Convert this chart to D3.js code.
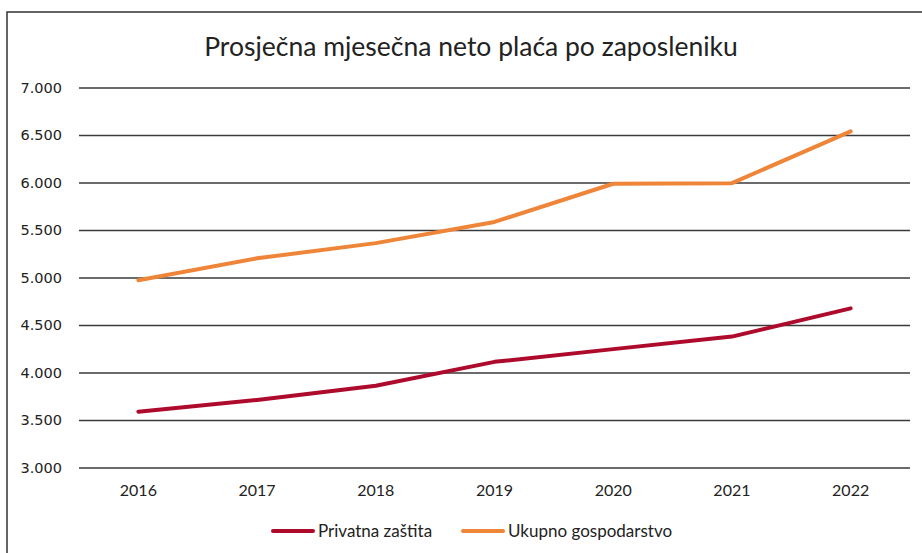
<!DOCTYPE html>
<html>
<head>
<meta charset="utf-8">
<script src="https://cdn.jsdelivr.net/npm/d3@7"></script>
<style>
  body { margin: 0; background: #fff; }
  svg { display: block; }
</style>
</head>
<body>
<div id="graph-container"></div>
<script>
// Data
var years = ["2016", "2017", "2018", "2019", "2020", "2021", "2022"];
var privatnaZastita = [3588, 3711, 3861, 4112, 4246, 4378, 4675];
var ukupnoGospodarstvo = [4972, 5202, 5362, 5585, 5987, 5993, 6538];
var yTicks = [3000, 3500, 4000, 4500, 5000, 5500, 6000, 6500, 7000];

var seriesNames = ["Privatna zaštita", "Ukupno gospodarstvo"];
var seriesColors = ["#AD0A2C", "#EE8539"];

var svgWidth = 922;
var svgHeight = 553;

var svg = d3.select("#graph-container")
  .append("svg")
  .attr("width", svgWidth)
  .attr("height", svgHeight);

// Outer frame (runs off the right and bottom edge)
svg.append("rect")
  .attr("x", 7)
  .attr("y", 12)
  .attr("width", 1000)
  .attr("height", 600)
  .attr("fill", "#fff")
  .attr("stroke", "#333")
  .attr("stroke-width", 1.5);

// Title
svg.append("text")
  .attr("x", 471)
  .attr("y", 56)
  .attr("text-anchor", "middle")
  .style("font-family", "Lato, 'Open Sans', sans-serif")
  .style("font-size", "26.5px")
  .style("fill", "#222")
  .text("Prosječna mjesečna neto plaća po zaposleniku");

var margin = { top: 87.5, left: 79, right: 12, bottom: 85.5 };
var chartWidth = svgWidth - margin.left - margin.right;
var chartHeight = svgHeight - margin.top - margin.bottom;

var chart = svg.append("g")
  .attr("transform", "translate(" + margin.left + "," + margin.top + ")");

var xScale = d3.scaleBand()
  .domain(years)
  .range([0, chartWidth]);

var yScale = d3.scaleLinear()
  .domain([3000, 7000])
  .range([chartHeight, 0]);

var fmt = function (d) { return d3.format(",")(d).replace(/,/g, "."); };

// Y axis with gridlines
var yAxis = d3.axisLeft(yScale)
  .tickValues(yTicks)
  .tickSize(-chartWidth)
  .tickPadding(17)
  .tickFormat(fmt);

var yG = chart.append("g").call(yAxis);
yG.select(".domain").remove();
yG.selectAll(".tick line")
  .attr("stroke", "#3a3a3a")
  .attr("stroke-width", 1.4);
yG.selectAll(".tick text")
  .style("font-family", "'DejaVu Sans', Verdana, sans-serif")
  .style("font-size", "14.5px")
  .style("fill", "#222");

// X axis labels
var xAxis = d3.axisBottom(xScale)
  .tickSize(0)
  .tickPadding(17);

var xG = chart.append("g")
  .attr("transform", "translate(0," + chartHeight + ")")
  .call(xAxis);
xG.select(".domain").remove();
xG.selectAll(".tick text")
  .style("font-family", "Lato, 'Open Sans', sans-serif")
  .style("font-size", "16px")
  .style("fill", "#222");

// Lines
var line = d3.line()
  .x(function (d, i) { return xScale(years[i]) + xScale.bandwidth() / 2; })
  .y(function (d) { return yScale(d); });

[privatnaZastita, ukupnoGospodarstvo].forEach(function (values, k) {
  chart.append("path")
    .datum(values)
    .attr("fill", "none")
    .attr("stroke", seriesColors[k])
    .attr("stroke-width", 4)
    .attr("stroke-linecap", "round")
    .attr("stroke-linejoin", "round")
    .attr("d", line);
});

// Legend
var legendX = [273, 463];
var legend = svg.append("g");
seriesNames.forEach(function (name, k) {
  legend.append("line")
    .attr("x1", legendX[k])
    .attr("x2", legendX[k] + 40)
    .attr("y1", 531)
    .attr("y2", 531)
    .attr("stroke", seriesColors[k])
    .attr("stroke-width", 4)
    .attr("stroke-linecap", "round");
  legend.append("text")
    .attr("x", legendX[k] + 45)
    .attr("y", 537)
    .style("font-family", "Lato, 'Open Sans', sans-serif")
    .style("font-size", "17px")
    .style("fill", "#222")
    .text(name);
});
</script>
</body>
</html>
